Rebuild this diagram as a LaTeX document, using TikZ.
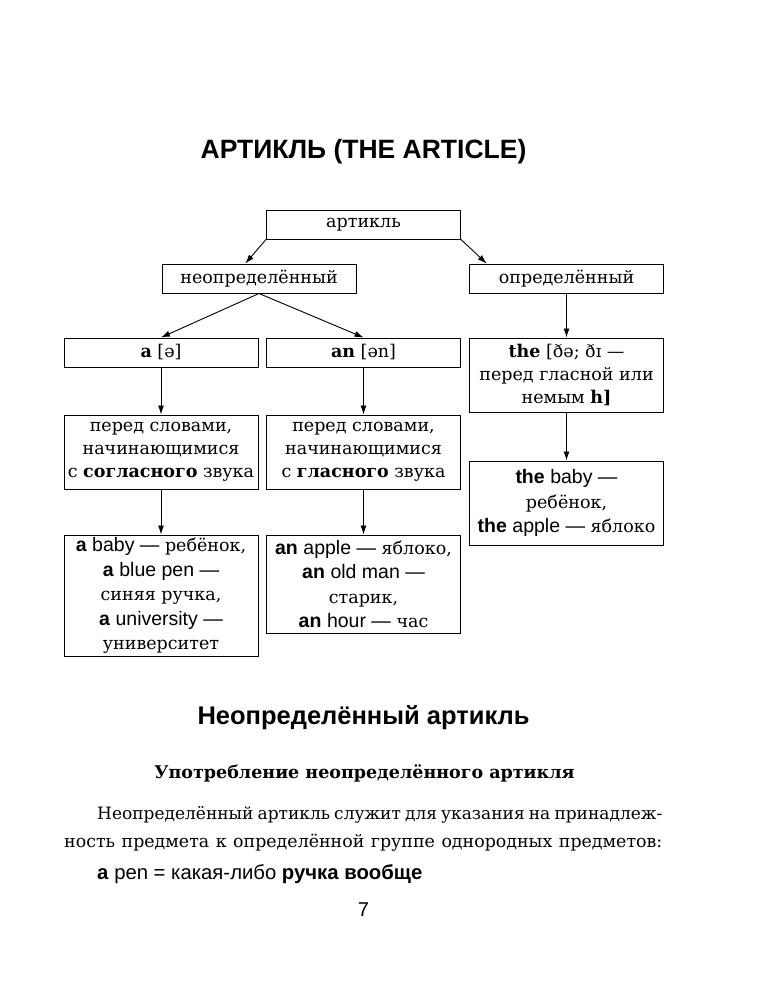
\documentclass[tikz,border=0pt]{standalone}
\usepackage{fontspec}
\setmainfont{DejaVu Serif}
\setsansfont{Liberation Sans}
\usetikzlibrary{calc,arrows.meta}
\newcommand{\lat}[1]{{\sffamily\fontsize{19.5}{24.5}\selectfont #1}}
\newcommand{\blat}[1]{{\sffamily\bfseries\fontsize{19.5}{24.5}\selectfont #1}}
\tikzset{
  cell/.style={draw, line width=1pt, inner sep=0pt, minimum width=194pt, align=center,
    font=\fontsize{17.5}{23}\selectfont},
  exbox/.style={cell, font=\fontsize{17.5}{24.5}\selectfont},
  arr/.style={line width=0.9pt, -{Latex[length=9pt,width=6pt]}}
}

\begin{document}
\begin{tikzpicture}[x=1pt,y=-1pt]
  \useasboundingbox (0,0) rectangle (773,1000);

  \node[font=\sffamily\bfseries\fontsize{26.5}{30}\selectfont] (title) at (363.5,152) {АРТИКЛЬ (THE ARTICLE)};

  \node[cell, minimum height=28pt] (art) at (363.5,225) {артикль};
  \node[cell, minimum height=29pt] (neopr) at (259,278.5) {неопределённый};
  \node[cell, minimum height=29pt] (opr) at (566.5,278.5) {определённый};

  \node[cell, minimum height=29pt] (a) at (161,352.5) {\textbf{a} [ə]};
  \node[cell, minimum height=29pt] (an) at (363.5,352.5) {\textbf{an} [ən]};
  \node[cell, minimum height=74pt] (the) at (566.5,375) {\textbf{the} [ðə; ðɪ —\\перед гласной или\\немым \textbf{h]}};

  \node[cell, minimum height=74pt] (pcons) at (161,452) {перед словами,\\начинающимися\\с \textbf{согласного} звука};
  \node[cell, minimum height=74pt] (pvow) at (363.5,452) {перед словами,\\начинающимися\\с \textbf{гласного} звука};
  \node[exbox, minimum height=84pt] (exthe) at (566.5,503) {\blat{the} \lat{baby —}\\ребёнок,\\\blat{the} \lat{apple —} яблоко};

  \node[exbox, minimum height=121pt] (exa) at (161,595.5) {\blat{a} \lat{baby —} ребёнок,\\\blat{a} \lat{blue pen —}\\синяя ручка,\\\blat{a} \lat{university —}\\университет};
  \node[exbox, minimum height=98pt] (exan) at (363.5,584) {\blat{an} \lat{apple —} яблоко,\\\blat{an} \lat{old man —}\\старик,\\\blat{an} \lat{hour —} час};

  \draw[arr] (art.south west) -- ($(neopr.north west)!0.43!(neopr.north east)$);
  \draw[arr] (art.south east) -- ($(opr.north west)!0.09!(opr.north east)$);
  \draw[arr] (neopr.south) -- (a.north);
  \draw[arr] (neopr.south) -- (an.north);
  \draw[arr] (opr) -- (the);
  \draw[arr] (a) -- (pcons);
  \draw[arr] (an) -- (pvow);
  \draw[arr] (the) -- (exthe);
  \draw[arr] (pcons) -- (exa);
  \draw[arr] (pvow) -- (exan);

  % text below the scheme
  \node[font=\sffamily\bfseries\fontsize{25.5}{30}\selectfont] (head) at (363.5,718) {Неопределённый артикль};
  \node[font=\bfseries\fontsize{17.5}{22}\selectfont] (sub) at (364.5,773) {Употребление неопределённого артикля};
  \node[font=\fontsize{17}{22}\selectfont, anchor=west, inner sep=0pt] (par1) at (97,815) {\hbox to 565pt{Неопределённый артикль служит для указания на принадлеж-}};
  \node[font=\fontsize{17.4}{22}\selectfont, anchor=west, inner sep=0pt] (par2) at (64,843) {\hbox to 598pt{ность предмета к определённой группе однородных предметов:}};
  \node[font=\sffamily\fontsize{20.3}{24}\selectfont, anchor=west, inner sep=0pt] (expen) at (97,874) {\textbf{a} pen = какая-либо \textbf{ручка вообще}};
  \node[font=\sffamily\fontsize{20}{24}\selectfont] (page) at (363.5,910) {7};
\end{tikzpicture}
\end{document}
